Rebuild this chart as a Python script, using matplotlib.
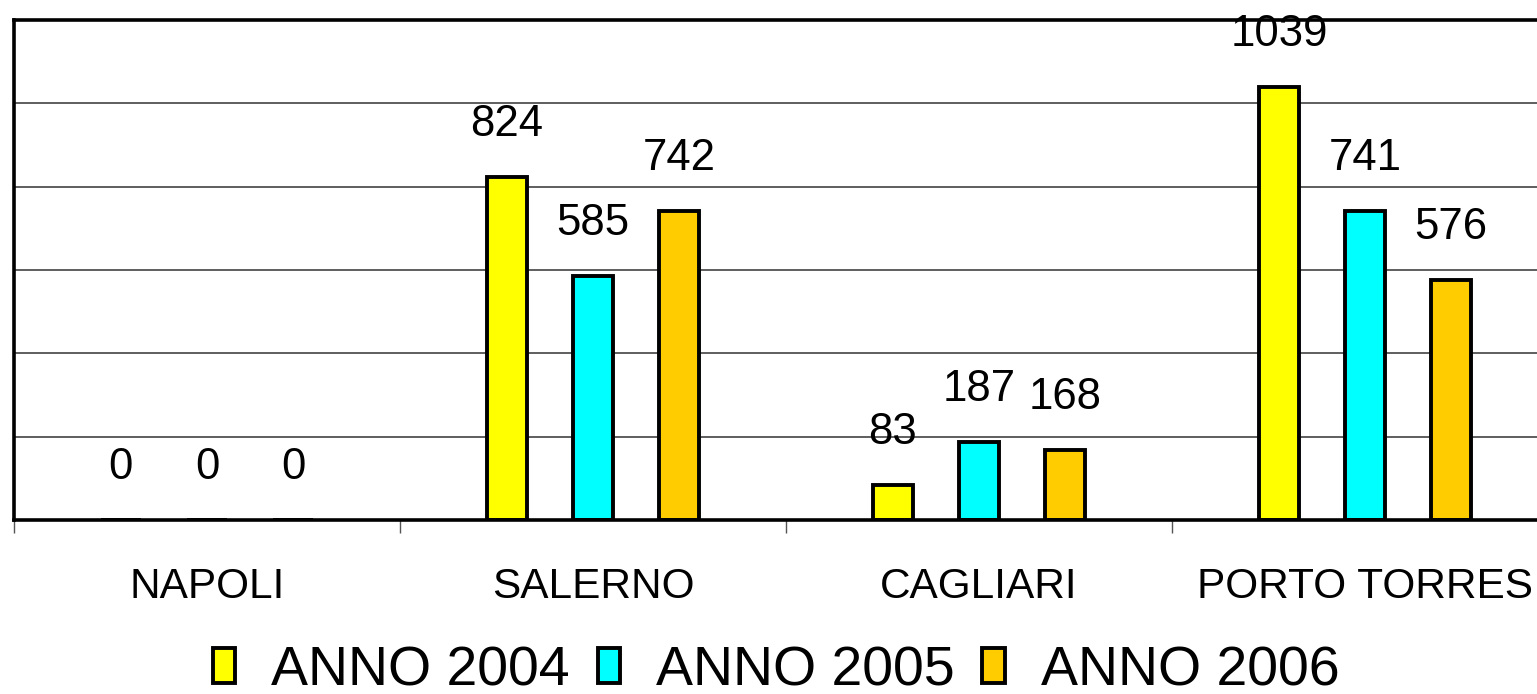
import numpy as np
import matplotlib
matplotlib.use("Agg")
import matplotlib.pyplot as plt

# data
porti = ["NAPOLI", "SALERNO", "CAGLIARI", "PORTO TORRES"]
anni = ["ANNO 2004", "ANNO 2005", "ANNO 2006"]
anno_2004 = [0, 824, 83, 1039]
anno_2005 = [0, 585, 187, 741]
anno_2006 = [0, 742, 168, 576]
colori = ["#FFFF00", "#00FFFF", "#FFCC00"]

plt.rcParams['font.family'] = ['Liberation Sans', 'DejaVu Sans']

fig = plt.figure(figsize=(15.37, 6.94), dpi=100)
# plot area runs past the right edge of the picture, as in the original
ax = fig.add_axes([14/1537, 174/694, 1544/1537, 500/694])

x = np.arange(len(porti))
offs = [-0.223, 0.0, 0.223]
serie = [anno_2004, anno_2005, anno_2006]
for k, vals in enumerate(serie):
    bars = ax.bar(x + offs[k], vals, width=0.103, color=colori[k],
                  edgecolor='black', linewidth=2.8, label=anni[k], zorder=3)
    for b, v in zip(bars, vals):
        ax.annotate(str(v), (b.get_x() + b.get_width()/2, v),
                    xytext=(0, 23), textcoords='offset points',
                    ha='center', va='bottom', fontsize=31.5, zorder=4)

ax.set_xlim(-0.5, 3.5)
ax.set_ylim(0, 1200)
ax.set_yticks(np.arange(0, 1201, 200))
ax.yaxis.grid(True, color='#333333', linewidth=1.1, zorder=0)
ax.tick_params(axis='y', length=0, labelleft=False)

ax.set_xticks(x)
ax.set_xticklabels(porti, fontsize=30.5)
ax.tick_params(axis='x', which='major', length=0, pad=34)
ax.set_xticks(np.arange(-0.5, 3.6, 1.0), minor=True)
ax.tick_params(axis='x', which='minor', length=9, width=1, color='#555555',
               direction='out')

for s in ['left', 'bottom', 'top']:
    ax.spines[s].set_linewidth(2.6)
    ax.spines[s].set_zorder(5)
ax.spines['right'].set_visible(False)

leg = fig.legend(loc='center', bbox_to_anchor=(0.505, 1 - 671/694), ncol=3,
                 frameon=False, fontsize=40, handlelength=0.4, handleheight=0.6,
                 handletextpad=0.65, columnspacing=0.5, borderpad=0)

fig.savefig("out.png", dpi=100)
